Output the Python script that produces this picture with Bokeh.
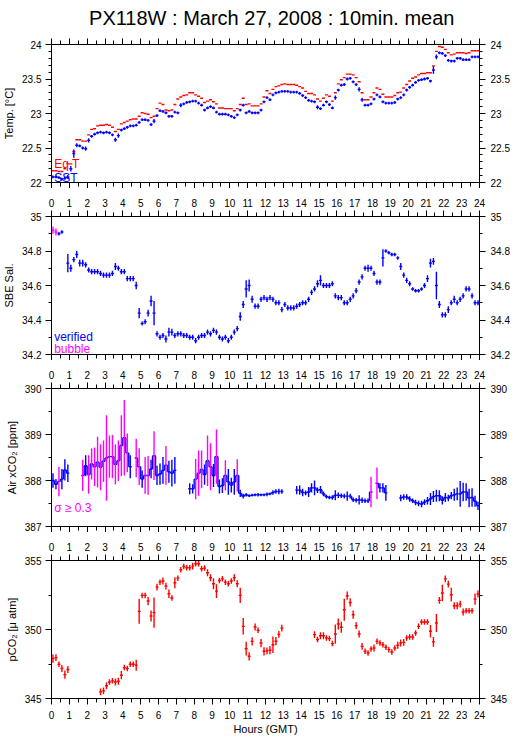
import numpy as np
from bokeh.plotting import figure
from bokeh.models import Range1d, LinearAxis, FixedTicker, CustomJSTickFormatter, CustomLabelingPolicy
from bokeh.layouts import column
from bokeh.embed import file_html
from bokeh.resources import INLINE
from bokeh.core.properties import value

TITLE = "PX118W : March 27, 2008 : 10min. mean"
N = None

# start minute (GMT) of each 10-minute bin
bin_start_min = list(range(0, 1440, 10))

# ---- Panel 1: temperatures [deg C]
sst = [
    22.08, 22.08, 22.07, 22.05, 22.06, 22.08, 22.20, 22.42, 22.54, 22.53, 22.50, 22.49,
    22.61, 22.67, 22.70, 22.72, 22.73, 22.72, 22.73, 22.72, 22.69, 22.62, 22.68, 22.76,
    22.78, 22.80, 22.82, 22.82, 22.83, 22.87, 22.91, 22.91, 22.90, 22.84, 22.89, 22.97,
    23.04, 23.03, 23.01, 22.96, 22.96, 23.02, 23.01, 23.12, 23.14, 23.16, 23.17, 23.18,
    23.18, 23.15, 23.12, 23.05, 23.08, 23.10, 23.08, 23.02, 22.99, 22.99, 22.99, 22.98,
    22.96, 22.94, 22.98, 23.05, 23.12, 23.01, 23.03, 23.01, 23.01, 23.01, 23.05, 23.17,
    23.23, 23.20, 23.27, 23.30, 23.31, 23.32, 23.32, 23.32, 23.31, 23.31, 23.31, 23.29,
    23.26, 23.23, 23.19, 23.18, 23.17, 23.09, 23.07, 23.12, 23.17, 23.13, 23.08, 23.23,
    23.34, 23.41, 23.42, 23.50, 23.51, 23.46, 23.42, 23.35, 23.20, 23.12, 23.12, 23.14,
    23.21, 23.27, 23.24, 23.17, 23.15, 23.15, 23.15, 23.16, 23.21, 23.23, 23.27, 23.34,
    23.38, 23.41, 23.45, 23.48, 23.49, 23.50, 23.51, 23.47, 23.63, 23.82, 23.88, 23.87,
    23.84, 23.77, 23.76, 23.76, 23.80, 23.80, 23.78, 23.78, 23.78, 23.82, 23.82, 23.82,
]
sst_sd = [
    0.02, 0.02, 0.02, 0.02, 0.02, 0.03, 0.04, 0.06, 0.03, 0.02, 0.02, 0.03,
    0.03, 0.02, 0.02, 0.02, 0.02, 0.02, 0.02, 0.02, 0.02, 0.03, 0.03, 0.02,
    0.02, 0.02, 0.02, 0.02, 0.02, 0.02, 0.02, 0.02, 0.02, 0.02, 0.03, 0.02,
    0.02, 0.02, 0.02, 0.02, 0.02, 0.02, 0.02, 0.03, 0.02, 0.02, 0.02, 0.02,
    0.02, 0.02, 0.02, 0.02, 0.02, 0.02, 0.02, 0.02, 0.02, 0.02, 0.02, 0.02,
    0.02, 0.02, 0.02, 0.02, 0.02, 0.02, 0.02, 0.02, 0.02, 0.02, 0.02, 0.02,
    0.02, 0.02, 0.02, 0.02, 0.02, 0.02, 0.02, 0.02, 0.02, 0.02, 0.02, 0.02,
    0.02, 0.02, 0.02, 0.02, 0.02, 0.03, 0.02, 0.02, 0.02, 0.02, 0.02, 0.03,
    0.02, 0.02, 0.02, 0.02, 0.02, 0.02, 0.02, 0.03, 0.03, 0.02, 0.02, 0.02,
    0.02, 0.02, 0.02, 0.02, 0.02, 0.02, 0.02, 0.02, 0.02, 0.02, 0.02, 0.02,
    0.02, 0.02, 0.02, 0.02, 0.02, 0.02, 0.02, 0.02, 0.055, 0.035, 0.02, 0.02,
    0.02, 0.02, 0.02, 0.02, 0.02, 0.02, 0.02, 0.02, 0.02, 0.02, 0.02, 0.02,
]
eqt = [
    22.17, 22.17, 22.16, 22.16, 22.20, 22.27, 22.27, 22.45, 22.62, 22.62, 22.60, 22.60,
    22.69, 22.77, 22.78, 22.82, 22.83, 22.83, 22.84, 22.83, 22.80, 22.74, 22.77, 22.85,
    22.87, 22.89, 22.91, 22.92, 22.92, 22.96, 23.01, 23.00, 22.99, 22.94, 22.96, 23.07,
    23.15, 23.13, 23.05, 23.04, 23.05, 23.13, 23.21, 23.24, 23.26, 23.27, 23.30, 23.30,
    23.27, 23.25, 23.22, 23.16, 23.18, 23.20, 23.17, 23.14, 23.08, 23.08, 23.07, 23.07,
    23.07, 23.04, 23.07, 23.13, 23.22, 23.13, 23.14, 23.11, 23.11, 23.11, 23.14, 23.24,
    23.33, 23.29, 23.35, 23.39, 23.40, 23.42, 23.43, 23.42, 23.42, 23.42, 23.41, 23.39,
    23.37, 23.32, 23.29, 23.29, 23.27, 23.21, 23.18, 23.22, 23.27, 23.25, 23.18, 23.30,
    23.43, 23.49, 23.52, 23.57, 23.57, 23.56, 23.52, 23.46, 23.30, 23.20, 23.20, 23.24,
    23.30, 23.37, 23.35, 23.28, 23.24, 23.24, 23.24, 23.26, 23.30, 23.31, 23.37, 23.42,
    23.47, 23.51, 23.53, 23.56, 23.58, 23.58, 23.59, 23.59, 23.69, 23.90, 23.97, 23.96,
    23.93, 23.88, 23.85, 23.86, 23.88, 23.88, 23.88, 23.87, 23.88, 23.91, 23.91, 23.91,
]

# ---- Panel 2: SBE salinity
sal = [
    34.92, 34.91, 34.90, 34.91, N, 34.73, 34.70, 34.75, 34.78, 34.73, 34.73, 34.72,
    34.69, 34.68, 34.68, 34.68, 34.67, 34.66, 34.66, 34.66, 34.67, 34.71, 34.70, 34.68,
    34.68, 34.64, 34.64, 34.64, 34.60, 34.44, 34.38, 34.39, 34.44, 34.51, 34.44, 34.32,
    34.30, 34.31, 34.29, 34.33, 34.33, 34.31, 34.32, 34.32, 34.31, 34.31, 34.30, 34.30,
    34.28, 34.30, 34.31, 34.31, 34.33, 34.32, 34.34, 34.33, 34.30, 34.29, 34.30, 34.28,
    34.30, 34.33, 34.35, 34.42, 34.49, 34.58, 34.60, 34.52, 34.48, 34.48, 34.52, 34.53,
    34.52, 34.53, 34.52, 34.50, 34.50, 34.46, 34.49, 34.47, 34.47, 34.47, 34.48, 34.49,
    34.50, 34.50, 34.52, 34.56, 34.58, 34.61, 34.63, 34.60, 34.60, 34.60, 34.61, 34.54,
    34.53, 34.53, 34.50, 34.50, 34.52, 34.54, 34.57, 34.62, 34.65, 34.70, 34.70, 34.70,
    34.67, 34.62, 34.62, 34.76, 34.80, 34.79, 34.78, 34.78, 34.76, 34.71, 34.66, 34.63,
    34.61, 34.58, 34.57, 34.57, 34.58, 34.60, 34.64, 34.73, 34.74, 34.60, 34.49, 34.43,
    34.43, 34.46, 34.50, 34.52, 34.50, 34.52, 34.54, 34.58, 34.58, 34.54, 34.50, 34.50,
]
sal_sd = [
    0.02, 0.02, 0.01, 0.01, 0.0, 0.053, 0.02, 0.015, 0.02, 0.02, 0.02, 0.015,
    0.015, 0.015, 0.015, 0.015, 0.015, 0.015, 0.015, 0.015, 0.015, 0.02, 0.015, 0.015,
    0.015, 0.015, 0.015, 0.015, 0.022, 0.03, 0.012, 0.015, 0.02, 0.03, 0.07, 0.015,
    0.015, 0.015, 0.02, 0.025, 0.02, 0.015, 0.015, 0.015, 0.015, 0.015, 0.015, 0.015,
    0.015, 0.015, 0.015, 0.015, 0.015, 0.015, 0.015, 0.015, 0.015, 0.015, 0.015, 0.015,
    0.015, 0.015, 0.015, 0.025, 0.02, 0.05, 0.035, 0.02, 0.015, 0.015, 0.015, 0.015,
    0.015, 0.015, 0.015, 0.015, 0.015, 0.015, 0.015, 0.015, 0.015, 0.015, 0.015, 0.015,
    0.015, 0.015, 0.015, 0.015, 0.015, 0.02, 0.03, 0.015, 0.015, 0.015, 0.015, 0.015,
    0.015, 0.015, 0.015, 0.015, 0.015, 0.015, 0.015, 0.015, 0.015, 0.015, 0.02, 0.015,
    0.015, 0.015, 0.015, 0.05, 0.01, 0.01, 0.01, 0.01, 0.01, 0.02, 0.015, 0.015,
    0.015, 0.01, 0.01, 0.01, 0.01, 0.015, 0.02, 0.025, 0.02, 0.08, 0.02, 0.015,
    0.015, 0.02, 0.015, 0.02, 0.015, 0.015, 0.015, 0.015, 0.015, 0.015, 0.015, 0.015,
]
sal_bubble = [1, 1] + [0] * 142

# ---- Panel 3: air xCO2 [ppm]
air = [
    388.00, 387.92, 387.98, 388.03, 388.23, 388.16, N, N, N, N, 388.11, 388.32,
    388.13, 388.36, 388.30, 388.40, 388.29, 388.42, 388.49, 388.52, 388.52, 388.35, 388.43, 388.76,
    388.93, 388.60, 388.30, N, 388.49, 388.30, 388.03, 388.11, 388.11, 388.25, 388.54, 388.11,
    388.14, 388.22, 388.33, 388.19, 388.16, 388.22, N, N, N, N, 387.82, 387.82,
    388.03, 388.16, 388.24, 388.13, 388.43, 388.30, 388.11, 388.52, 387.87, 387.89, 388.11, 387.97,
    387.90, 387.97, 388.11, 387.72, 387.66, 387.69, 387.67, 387.68, 387.69, 387.69, 387.69, 387.69,
    387.70, 387.71, 387.74, 387.76, 387.76, 387.76, N, N, N, N, 387.79, 387.79,
    387.74, 387.73, 387.75, 387.84, 387.84, 387.79, 387.80, 387.71, 387.65, 387.63, 387.63, 387.68,
    387.68, 387.67, 387.66, 387.66, 387.66, 387.58, 387.57, 387.58, 387.57, 387.56, 387.56, 387.75,
    N, 387.94, 387.84, 387.84, 387.73, N, N, N, N, 387.62, 387.64, 387.64,
    387.60, 387.56, 387.52, 387.50, 387.49, 387.53, 387.56, 387.60, 387.65, 387.67, 387.67, 387.57,
    387.63, 387.62, 387.67, 387.69, 387.71, 387.71, 387.75, 387.75, 387.62, 387.63, 387.55, 387.45,
]
air_sd = [
    0.16, 0.11, 0.32, 0.22, 0.23, 0.19, 0, 0, 0, 0, 0.34, 0.23,
    0.42, 0.34, 0.42, 0.55, 0.50, 0.45, 0.93, 0.46, 0.47, 0.43, 0.44, 0.66,
    0.82, 0.42, 0.25, 0, 0.42, 0.40, 0.19, 0.40, 0.42, 0.20, 0.53, 0.21,
    0.23, 0.29, 0.42, 0.24, 0.29, 0.29, 0, 0, 0, 0, 0.12, 0.10,
    0.44, 0.49, 0.41, 0.22, 0.55, 0.51, 0.25, 0.59, 0.15, 0.16, 0.33, 0.28,
    0.16, 0.28, 0.35, 0.08, 0.05, 0.04, 0.03, 0.03, 0.03, 0.04, 0.03, 0.03,
    0.04, 0.03, 0.05, 0.05, 0.06, 0.05, 0, 0, 0, 0, 0.09, 0.10,
    0.08, 0.05, 0.11, 0.10, 0.16, 0.06, 0.08, 0.05, 0.04, 0.04, 0.05, 0.11,
    0.06, 0.05, 0.05, 0.10, 0.05, 0.05, 0.05, 0.10, 0.06, 0.05, 0.05, 0.33,
    0, 0.34, 0.10, 0.10, 0.17, 0, 0, 0, 0, 0.07, 0.06, 0.06,
    0.06, 0.05, 0.06, 0.06, 0.07, 0.06, 0.08, 0.13, 0.12, 0.13, 0.12, 0.09,
    0.10, 0.07, 0.08, 0.13, 0.14, 0.28, 0.20, 0.19, 0.20, 0.20, 0.12, 0.09,
]
SIGMA_LIMIT = 0.3

# ---- Panel 4: pCO2 [uatm]
pco2 = [
    347.89, 347.96, 347.48, 347.17, 346.73, 347.10, N, N, N, N, N, N,
    N, N, N, N, 345.48, 345.55, 345.92, 346.20, 346.28, 346.20, 346.25, 346.69,
    347.24, 347.17, 347.48, 347.48, 347.41, 351.31, 352.47, 352.47, 352.06, 350.98, 351.22, 353.07,
    353.43, 353.51, 353.14, 352.59, 352.28, 353.39, 353.72, 354.33, 354.57, 354.47, 354.47, 354.59,
    354.76, 354.76, 354.40, 354.45, 354.11, 353.75, 353.31, 352.78, 353.55, 353.67, 353.43, 353.31,
    353.51, 353.75, 353.31, 352.47, 350.23, 348.61, 348.06, 349.14, 350.18, 349.94, 349.02, 348.42,
    348.45, 348.50, 348.90, 349.15, 349.65, 350.10, N, N, N, N, N, N,
    N, N, N, N, 349.63, 349.27, 349.55, 349.55, 349.39, 349.34, 348.98, 349.67,
    350.40, 350.16, 351.43, 352.45, 351.96, 351.07, 350.28, 349.67, 348.78, 348.42, 348.30, 348.59,
    348.66, 349.14, 349.02, 348.90, 348.71, 348.54, 348.37, 348.66, 348.86, 349.02, 349.07, 349.39,
    349.46, 349.46, 349.75, 350.23, 350.54, 350.54, 350.54, 349.87, 349.10, 350.47, 352.11, 352.64,
    353.67, 353.29, 352.52, 351.72, 351.72, 351.84, 351.27, 351.36, 351.36, 351.36, 352.20, 352.57,
]
pco2_sd = [
    0.30, 0.25, 0.20, 0.25, 0.30, 0.25, 0, 0, 0, 0, 0, 0,
    0, 0, 0, 0, 0.25, 0.25, 0.25, 0.20, 0.20, 0.25, 0.25, 0.30,
    0.20, 0.20, 0.20, 0.20, 0.40, 0.90, 0.20, 0.20, 0.30, 0.40, 1.10, 0.25,
    0.20, 0.25, 0.25, 0.30, 0.20, 0.40, 0.20, 0.20, 0.20, 0.20, 0.20, 0.25,
    0.20, 0.20, 0.20, 0.20, 0.25, 0.25, 0.40, 0.50, 0.20, 0.20, 0.20, 0.20,
    0.20, 0.25, 0.25, 0.55, 0.60, 0.50, 0.30, 0.30, 0.25, 0.20, 0.30, 0.30,
    0.25, 0.30, 0.60, 0.30, 0.25, 0.25, 0, 0, 0, 0, 0, 0,
    0, 0, 0, 0, 0.25, 0.20, 0.25, 0.25, 0.20, 0.20, 0.20, 0.70,
    0.40, 0.40, 0.80, 0.30, 0.30, 0.30, 0.25, 0.25, 0.25, 0.20, 0.20, 0.20,
    0.25, 0.20, 0.20, 0.20, 0.20, 0.20, 0.20, 0.20, 0.25, 0.25, 0.25, 0.20,
    0.20, 0.20, 0.20, 0.20, 0.20, 0.20, 0.20, 0.45, 0.35, 0.65, 0.25, 0.60,
    0.25, 0.25, 0.50, 0.25, 0.25, 0.25, 0.25, 0.20, 0.20, 0.20, 0.40, 0.25,
]

# ---- axis ticks
x_major = list(range(0, 25))
x_minor = [h + 0.5 for h in range(0, 24)]
t_major = [22, 22.5, 23, 23.5, 24]
t_minor = [22.1, 22.2, 22.3, 22.4, 22.6, 22.7, 22.8, 22.9, 23.1, 23.2, 23.3, 23.4, 23.6, 23.7, 23.8, 23.9]
s_major = [34.2, 34.4, 34.6, 34.8, 35]
s_minor = [34.3, 34.5, 34.7, 34.9]
a_major = [387, 388, 389, 390]
a_minor = [387.5, 388.5, 389.5]
p_major = [345, 350, 355]
p_minor = [347.5, 352.5]

BLUE, RED, MAG = "#0000ff", "#ff0000", "#ff00ff"
FONT = "Liberation Sans"
LW = 1.4

def arr(a):
    return np.array([np.nan if v is None else v for v in a], dtype=float)

hours = (np.array(bin_start_min, dtype=float) + 5.0) / 60.0
half = 5.0 / 60.0

FW, FH = 428, 138
BL, BR = 51, 36

def style_axis(ax, minor_out):
    ax.axis_line_color = "black"
    ax.major_tick_line_color = "black"
    ax.minor_tick_line_color = "black"
    ax.major_tick_in = 0
    ax.major_tick_out = 6
    ax.minor_tick_in = 0
    ax.minor_tick_out = minor_out
    ax.major_label_text_font = FONT
    ax.major_label_text_font_size = "10px"
    ax.major_label_text_color = "black"
    ax.major_label_standoff = 4
    ax.axis_label_text_font = FONT
    ax.axis_label_text_font_size = "11px"
    ax.axis_label_text_font_style = "normal"
    ax.axis_label_text_color = "black"
    ax.axis_label_standoff = 4

def panel(ylo, yhi, ymaj, ymin, ylabel, top, bottom, top_labels, bottom_labels, xlabel=None):
    p = figure(frame_width=FW, frame_height=FH, x_range=Range1d(0, 24), y_range=Range1d(ylo, yhi),
               x_axis_location=None, y_axis_location=None, toolbar_location=None,
               output_backend="svg", title=None,
               min_border_left=BL, min_border_right=BR, min_border_top=top, min_border_bottom=bottom)
    p.outline_line_color = "black"
    p.background_fill_color = "white"
    p.border_fill_color = "white"
    fmt = CustomJSTickFormatter(code="return String(tick);")
    for loc, show in (("above", top_labels), ("below", bottom_labels)):
        ax = LinearAxis(ticker=FixedTicker(ticks=x_major, minor_ticks=x_minor))
        style_axis(ax, 4)
        if not show:
            # ticks only: no labels are laid out or drawn
            ax.major_label_text_font_size = "0px"
            ax.major_label_standoff = 0
            ax.major_label_policy = CustomLabelingPolicy(code="return new Set();")
        if loc == "below":
            ax.major_label_standoff = 6 if show else 0
        if loc == "below" and xlabel:
            ax.axis_label = xlabel
            ax.axis_label_standoff = 1
        p.add_layout(ax, loc)
    for loc in ("left", "right"):
        ax = LinearAxis(ticker=FixedTicker(ticks=ymaj, minor_ticks=ymin), formatter=fmt)
        style_axis(ax, 3)
        if loc == "left":
            ax.axis_label = ylabel
        else:
            ax.major_label_standoff = 5
        p.add_layout(ax, loc)
    p.grid.visible = False
    return p

def crosses(p, y, sd, hcol, vcol=None, draw_v=True):
    y = arr(y); sd = arr(sd)
    ok = ~np.isnan(y)
    x = hours[ok]; yy = y[ok]; ss = sd[ok]
    hc = list(np.asarray(hcol, dtype=object)[ok]) if not isinstance(hcol, str) else [hcol] * len(x)
    p.segment(x0=x - half, x1=x + half, y0=yy, y1=yy, line_color=hc, line_width=LW)
    if draw_v:
        if vcol is None:
            vc = hc
        elif isinstance(vcol, str):
            vc = [vcol] * len(x)
        else:
            vc = list(np.asarray(vcol, dtype=object)[ok])
        p.segment(x0=x, x1=x, y0=yy - ss, y1=yy + ss, line_color=vc, line_width=LW)

def label(p, x, y, txt, color):
    p.text(x=[x], y=[y], text=[txt], text_font=value(FONT), text_font_size="12px",
           text_color=color, text_align="left", text_baseline="alphabetic")

TOTAL_W = BL + FW + BR

# title strip
tf = figure(width=TOTAL_W, height=30, x_range=Range1d(0, TOTAL_W), y_range=Range1d(0, 30),
            x_axis_location=None, y_axis_location=None, toolbar_location=None,
            output_backend="svg", title=None, min_border=0)
tf.outline_line_color = None
tf.grid.visible = False
tf.text(x=[BL + FW / 2], y=[13], text=[TITLE], text_font=value(FONT), text_font_size="20px",
        text_color="black", text_align="center", text_baseline="alphabetic")

# panel 1
p1 = panel(22, 24, t_major, t_minor, "Temp. [°C]", 14, 6, False, False)
crosses(p1, eqt, [0] * 144, RED, draw_v=False)
crosses(p1, sst, sst_sd, BLUE)
label(p1, 0.15, 22.275, "Eq T", RED)
label(p1, 0.15, 22.06, "SST", BLUE)

# panel 2
p2 = panel(34.2, 35, s_major, s_minor, "SBE Sal.", 28, 6, True, False)
sal_col = [MAG if b else BLUE for b in sal_bubble]
crosses(p2, sal, sal_sd, sal_col)
label(p2, 0.15, 34.304, "verified", BLUE)
label(p2, 0.15, 34.233, "bubble", MAG)

# panel 3
p3 = panel(387, 390, a_major, a_minor, "Air xCO₂ [ppm]", 28, 6, True, False)
air_a = arr(air)
okp = ~np.isnan(air_a)
idx = np.where(okp[:-1] & okp[1:])[0]
xc = (hours[idx] + hours[idx + 1]) / 2
p3.segment(x0=xc, x1=xc, y0=air_a[idx], y1=air_a[idx + 1], line_color=BLUE, line_width=LW)
air_vcol = [MAG if s >= SIGMA_LIMIT else BLUE for s in air_sd]
crosses(p3, air, air_sd, BLUE, vcol=air_vcol)
label(p3, 0.15, 387.407, "σ ≥ 0.3", MAG)

# panel 4
p4 = panel(345, 355, p_major, p_minor, "pCO₂ [μ atm]", 28, 39, True, True, xlabel="Hours (GMT)")
crosses(p4, pco2, pco2_sd, RED)

layout = column(tf, p1, p2, p3, p4)
open("out.html", "w").write(file_html(layout, INLINE))
